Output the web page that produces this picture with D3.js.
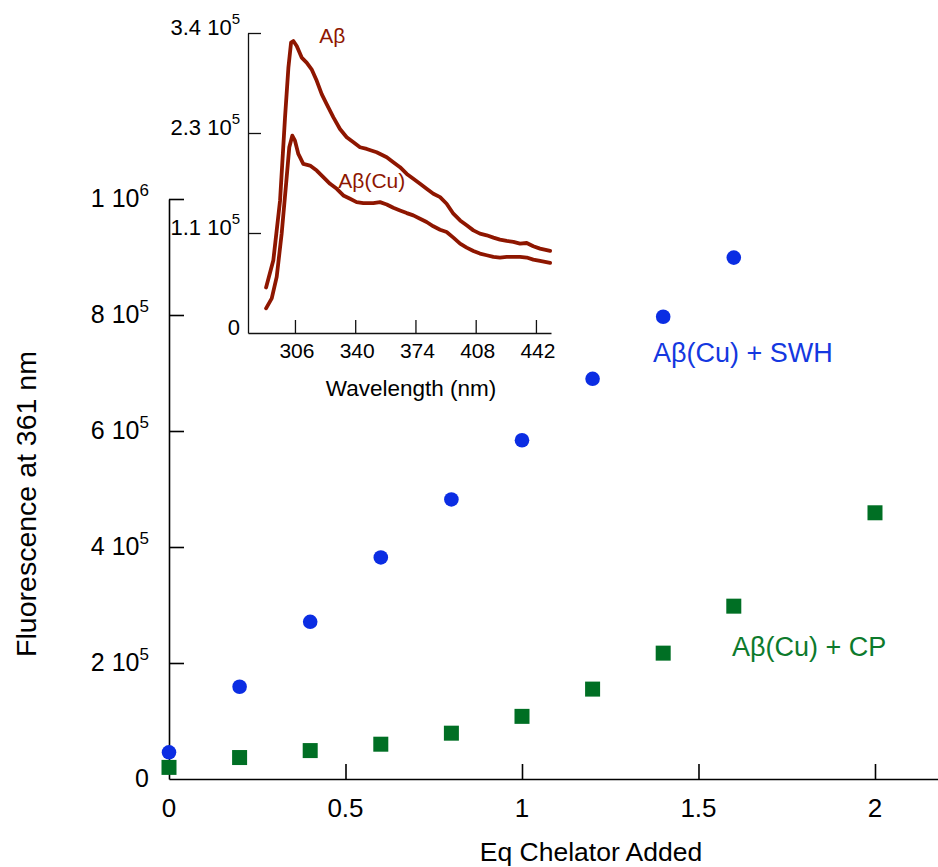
<!DOCTYPE html>
<html><head><meta charset="utf-8">
<script src="https://cdn.jsdelivr.net/npm/d3@7"></script>
<style>
html,body{margin:0;padding:0;background:#fff;}
svg{display:block;font-family:"Liberation Sans",Arial,Helvetica,sans-serif;}
</style></head>
<body>
<svg id="chart" width="938" height="867"></svg>
<script>
// ---------- main chart data ----------
const eqSWH = [0, 0.2, 0.4, 0.6, 0.8, 1.0, 1.2, 1.4, 1.6];
const fluoSWH = [46000, 159000, 271000, 382000, 482000, 584000, 690000, 797000, 899000];
const eqCP = [0, 0.2, 0.4, 0.6, 0.8, 1.0, 1.2, 1.4, 1.6, 2.0];
const fluoCP = [20000, 37000, 49000, 60000, 79000, 108000, 155000, 217000, 298000, 459000];
const mainYTicks = [0, 200000, 400000, 600000, 800000, 1000000];
const mainYTickLabels = [["0",""],["2 10","5"],["4 10","5"],["6 10","5"],["8 10","5"],["1 10","6"]];
const mainXTicks = [0, 0.5, 1, 1.5, 2];
const mainXTickLabels = ["0","0.5","1","1.5","2"];

// ---------- inset spectra ----------
const abWl = [289.7,293.8,297.6,300.4,302.3,303.8,305.1,307.0,309.8,312.6,315.4,318.3,321.1,323.9,327.7,331.4,335.2,339.0,342.7,346.5,352.1,357.8,361.5,365.3,369.1,372.8,376.6,380.3,384.1,387.9,391.6,395.4,399.2,402.9,406.7,410.4,414.2,418.0,421.7,425.5,429.3,433.0,436.8,440.5,444.3,450.0];
const abInt = [51600,82500,150200,244400,300800,329100,330900,325300,312100,306500,298900,285800,270700,259400,244400,231200,221800,216100,210500,208600,204800,199200,193500,187900,180300,174700,169100,163400,157800,154000,146500,135200,127600,122000,116300,112600,110700,108100,105800,104300,103200,101300,102000,98300,95600,93000];
const abCuWl = [289.7,292.9,295.7,298.5,301.0,302.8,304.5,306.0,307.9,310.7,314.5,318.3,322.0,325.8,329.6,333.3,337.1,340.8,344.6,350.2,354.0,357.8,361.5,365.3,369.1,372.8,376.6,380.3,384.1,387.9,391.6,395.4,399.2,402.9,406.7,410.4,414.2,418.0,421.7,425.5,429.3,433.0,436.8,440.5,444.3,450.0];
const abCuInt = [27900,39200,63600,112600,169100,210500,223600,218000,202900,191600,189800,184100,176600,169100,163400,155900,152100,148300,147200,147200,148300,145700,141900,138900,135900,133300,129500,125800,120900,117100,114500,108100,101300,96800,93000,90000,88100,86200,85500,86200,86200,86200,85500,83200,81700,79400];
const insetYTicks = [0, 113333, 226667, 340000];
const insetYTickLabels = [["0",""],["1.1 10","5"],["2.3 10","5"],["3.4 10","5"]];
const insetXTicks = [306, 340, 374, 408, 442];

// ---------- styles ----------
const BLUE = "#0b2de3", GREEN = "#006f24", RED = "#8e1600";
const svg = d3.select("#chart");
svg.append("rect").attr("width",938).attr("height",867).attr("fill","#fff");

// ---------- main scales ----------
const x = d3.scaleLinear().domain([0, 2.1785]).range([169, 938]);
const y = d3.scaleLinear().domain([0, 1000000]).range([779, 199]);

const gMain = svg.append("g");
const yAxis = d3.axisLeft(y).tickValues(mainYTicks).tickSize(-15).tickSizeOuter(0).tickFormat("");
const gy = gMain.append("g").attr("transform",`translate(${x(0)},0)`).call(yAxis);
gy.selectAll("path,line").attr("stroke","#000").attr("stroke-width",1.6);
gy.selectAll(".tick").filter(d=>d===0).select("line").remove();
const xAxis = d3.axisBottom(x).tickValues(mainXTicks).tickSize(-15).tickSizeOuter(0).tickFormat("");
const gx = gMain.append("g").attr("transform",`translate(0,${y(0)})`).call(xAxis);
gx.selectAll("path,line").attr("stroke","#000").attr("stroke-width",1.6);
gx.selectAll(".tick").filter(d=>d===0).select("line").remove();

mainYTicks.forEach((v,i)=>{
  const t = gMain.append("text").attr("x", x(0)-20).attr("y", y(v)+8)
    .attr("text-anchor","end").attr("font-size",25).attr("fill","#000");
  t.append("tspan").text(mainYTickLabels[i][0]);
  if (mainYTickLabels[i][1]) t.append("tspan").attr("dy",-11).attr("font-size",17).text(mainYTickLabels[i][1]);
});
mainXTicks.forEach((v,i)=>{
  gMain.append("text").attr("x", x(v)).attr("y", y(0)+38)
    .attr("text-anchor","middle").attr("font-size",26).attr("fill","#000").text(mainXTickLabels[i]);
});
gMain.append("text").attr("x",591).attr("y",861).attr("text-anchor","middle")
  .attr("font-size",26.5).attr("fill","#000").text("Eq Chelator Added");
gMain.append("text").attr("transform","translate(36,504) rotate(-90)").attr("text-anchor","middle")
  .attr("font-size",28.5).attr("fill","#000").text("Fluorescence at 361 nm");

gMain.selectAll("rect.cp").data(eqCP.map((e,i)=>[e,fluoCP[i]])).join("rect")
  .attr("x",d=>x(d[0])-7.5).attr("y",d=>y(d[1])-7.5).attr("width",15).attr("height",15).attr("fill",GREEN);
gMain.selectAll("circle.swh").data(eqSWH.map((e,i)=>[e,fluoSWH[i]])).join("circle")
  .attr("cx",d=>x(d[0])).attr("cy",d=>y(d[1])).attr("r",7.3).attr("fill",BLUE);

gMain.append("text").attr("x",x(1.371)).attr("y",y(719000)).attr("font-size",27).attr("fill","#1438e0").text("Aβ(Cu) + SWH");
gMain.append("text").attr("x",x(1.595)).attr("y",y(212000)).attr("font-size",27).attr("fill","#0d7a2c").text("Aβ(Cu) + CP");

// ---------- inset ----------
const xi = d3.scaleLinear().domain([279.5, 450.5]).range([248, 551]);
const yi = d3.scaleLinear().domain([0, 340000]).range([333, 33]);
const gIn = svg.append("g");
const yiAxis = d3.axisLeft(yi).tickValues(insetYTicks).tickSize(-13).tickSizeOuter(0).tickFormat("");
const giy = gIn.append("g").attr("transform",`translate(${xi.range()[0]},0)`).call(yiAxis);
giy.selectAll("path,line").attr("stroke","#111").attr("stroke-width",1.3);
giy.selectAll(".tick").filter(d=>d===0).select("line").remove();
const xiAxis = d3.axisBottom(xi).tickValues(insetXTicks).tickSize(-13).tickSizeOuter(0).tickFormat("");
const gix = gIn.append("g").attr("transform",`translate(0,${yi(0)})`).call(xiAxis);
gix.selectAll("path,line").attr("stroke","#111").attr("stroke-width",1.3);

insetYTicks.forEach((v,i)=>{
  const t = gIn.append("text").attr("x", xi.range()[0]-8).attr("y", yi(v)+2)
    .attr("text-anchor","end").attr("font-size",22).attr("fill","#000");
  t.append("tspan").text(insetYTickLabels[i][0]);
  if (insetYTickLabels[i][1]) t.append("tspan").attr("dy",-11).attr("font-size",15).text(insetYTickLabels[i][1]);
});
insetXTicks.forEach(v=>{
  gIn.append("text").attr("x", xi(v)+2).attr("y", yi(0)+25)
    .attr("text-anchor","middle").attr("font-size",21).attr("fill","#000").text(v);
});
gIn.append("text").attr("x",411).attr("y",396).attr("text-anchor","middle")
  .attr("font-size",22.5).attr("fill","#000").text("Wavelength (nm)");

const line = d3.line().x(d=>xi(d[0])).y(d=>yi(d[1])).curve(d3.curveLinear);
[[abWl,abInt],[abCuWl,abCuInt]].forEach(([w,v])=>{
  gIn.append("path").datum(w.map((wl,i)=>[wl,v[i]])).attr("d",line)
    .attr("fill","none").attr("stroke",RED).attr("stroke-width",3.8)
    .attr("stroke-linejoin","round").attr("stroke-linecap","round");
});

gIn.append("text").attr("x",xi(319.7)).attr("y",yi(328300)).attr("font-size",21).attr("fill",RED).text("Aβ");
gIn.append("text").attr("x",xi(330.5)).attr("y",yi(164000)).attr("font-size",21).attr("fill",RED).text("Aβ(Cu)");
</script>
</body></html>
